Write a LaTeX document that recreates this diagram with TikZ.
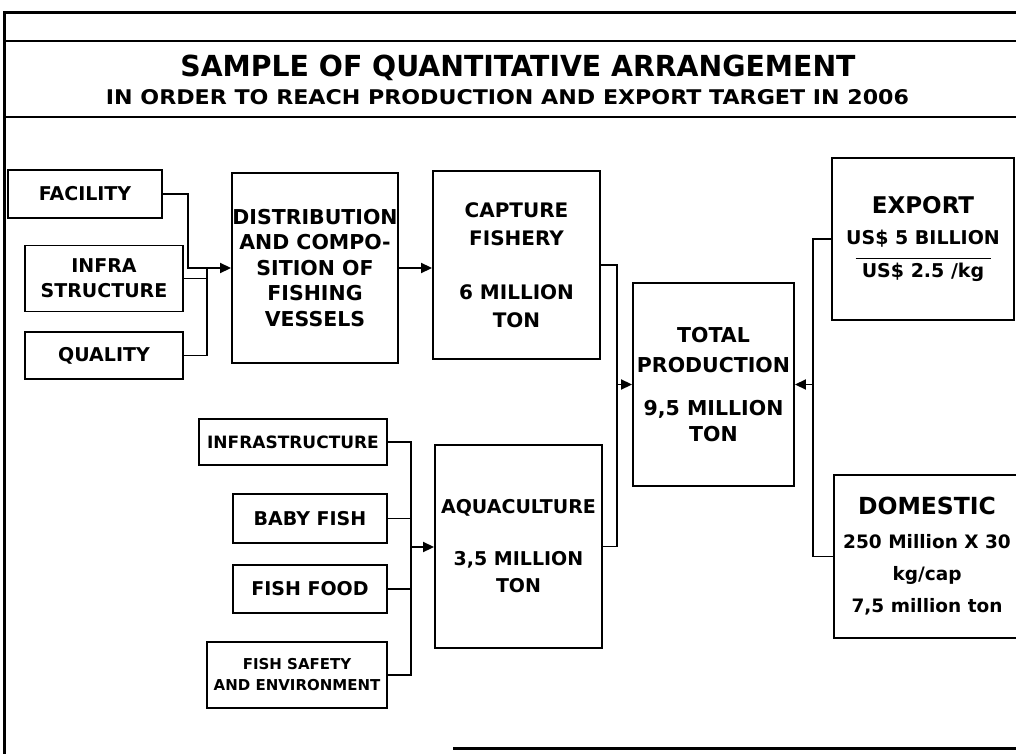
\documentclass[tikz,border=0pt]{standalone}
\usepackage{fontspec}
\usepackage{graphicx}
\setmainfont{DejaVu Sans}
\newfontfamily\condfont{DejaVu Sans Condensed}
\usetikzlibrary{arrows.meta}

\tikzset{
  fs/.style 2 args={font=\bfseries\fontsize{#1}{#2}\selectfont},
  box/.style={draw, line width=1.9pt, inner sep=0pt, align=center, fs={19}{25}},
  wire/.style={line width=1.8pt},
  arr/.style={wire, -{Triangle[length=11pt,width=10pt]}},
  rulethick/.style={line width=3pt},
  rulethin/.style={line width=2.2pt},
}

\begin{document}
\begin{tikzpicture}[x=1pt,y=-1pt]
\useasboundingbox (0,0) rectangle (1016,754);
\fill[white] (0,0) rectangle (1016,754);

% page frame and header band
\draw[rulethick] (4,13) -- (1016,13);
\draw[rulethick] (4,11.5) -- (4,754);
\draw[rulethin] (4,41) -- (1016,41);
\draw[rulethin] (4,117) -- (1016,117);
\draw[rulethick] (453,748) -- (1016,748);

% headings
\node[anchor=base, inner sep=0pt] (title) at (518,76.5)
  {\resizebox{675pt}{21.5pt}{\condfont\bfseries SAMPLE OF QUANTITATIVE ARRANGEMENT}};
\node[anchor=base, inner sep=0pt] (subtitle) at (507.5,105)
  {\resizebox{803pt}{15pt}{\bfseries IN ORDER TO REACH PRODUCTION AND EXPORT TARGET IN 2006}};

% capture fishery inputs
\node[box, minimum width=154pt, minimum height=48pt] (fac) at (85,194) {FACILITY};
\node[box, minimum width=158pt, minimum height=66pt] (infra) at (104,278.5) {INFRA\\STRUCTURE};
\node[box, minimum width=158pt, minimum height=47pt] (qual) at (104,355.5) {QUALITY};

\node[box, fs={20.5}{25.5}, minimum width=166pt, minimum height=190pt] (dist) at (315,268)
  {DISTRIBUTION\\AND COMPO-\\SITION OF\\FISHING\\VESSELS};
\node[box, fs={20}{27.5}, minimum width=167pt, minimum height=188pt] (cap) at (516.5,265)
  {CAPTURE\\FISHERY\\[27pt]6 MILLION\\TON};

% aquaculture inputs
\node[box, fs={17}{22}, minimum width=188pt, minimum height=46pt] (infst) at (293,442) {INFRASTRUCTURE};
\node[box, minimum width=154pt, minimum height=49pt] (baby) at (310,518.5) {BABY FISH};
\node[box, minimum width=154pt, minimum height=48pt] (food) at (310,589) {FISH FOOD};
\node[box, fs={15}{21}, minimum width=180pt, minimum height=66pt] (safe) at (297,675)
  {FISH SAFETY\\AND ENVIRONMENT};
\node[box, fs={19}{27}, minimum width=167pt, minimum height=203pt] (aqua) at (518.5,546.5)
  {AQUACULTURE\\[25pt]3,5 MILLION\\TON};

% totals and destinations
\node[box, fs={20.5}{27}, minimum width=161pt, minimum height=203pt] (total) at (713.5,384.5)
  {TOTAL\\[3pt]PRODUCTION\\[16pt]9,5 MILLION\\[-1pt]TON};
\node[box, fs={19}{24}, minimum width=182pt, minimum height=162pt] (exp) at (923,239)
  {{\fontsize{23}{24}\selectfont EXPORT}\\[6.6pt]US\$ 5 BILLION\\[-9pt]\rule{135pt}{1.5pt}\\[-6pt]US\$ 2.5 /kg};
\node[box, fs={18.5}{32}, minimum width=186pt, minimum height=163pt] (dom) at (927,556.5)
  {{\fontsize{23.5}{32}\selectfont DOMESTIC}\\[2pt]250 Million X 30\\kg/cap\\7,5 million ton};

% junction points of the collecting lines
\coordinate (jA) at (188,268);
\coordinate (jB) at (207,268);
\coordinate (jI) at (411,547);
\coordinate (jC) at (617,384.5);
\coordinate (jD) at (813,384.5);

% connectors into the fleet box
\draw[arr] (fac.east) -| (jA) -- (jA -| dist.west);
\draw[wire] (infra.east) -- (infra.east -| jB);
\draw[wire] (qual.east) -| (jB);
\draw[arr] (dist.east) -- (dist.east -| cap.west);

% connectors into aquaculture
\draw[wire] (infst.east) -| (safe.east -| jI) -- (safe.east);
\draw[wire] (baby.east) -- (baby.east -| jI);
\draw[wire] (food.east) -- (food.east -| jI);
\draw[arr] (jI) -- (jI -| aqua.west);

% connectors into total production
\draw[wire] (cap.east) -| (jC);
\draw[wire] (aqua.east) -| (jC);
\draw[arr] (jC) -- (total.west);
\draw[wire] (exp.west) -| (jD);
\draw[wire] (dom.west) -| (jD);
\draw[arr] (jD) -- (total.east);
\end{tikzpicture}
\end{document}
